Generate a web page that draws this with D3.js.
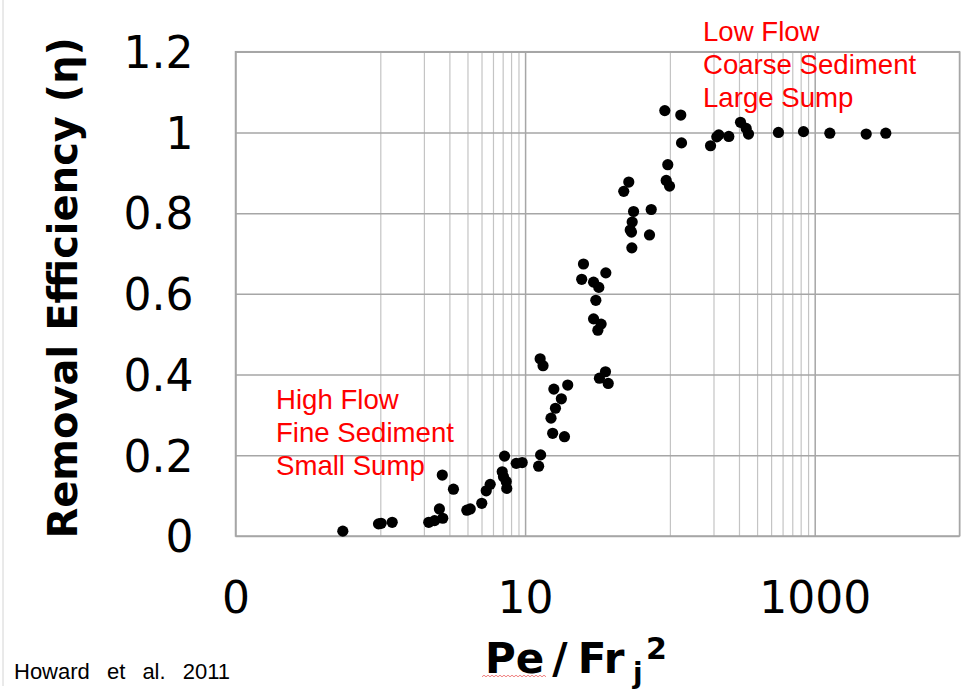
<!DOCTYPE html>
<html>
<head>
<meta charset="utf-8">
<script src="https://cdn.jsdelivr.net/npm/d3@7/dist/d3.min.js"></script>
<style>
  html, body { margin: 0; padding: 0; background: #fff; }
  svg { display: block; }
</style>
</head>
<body>
<svg id="chart" width="963" height="691"></svg>
<script>
// ---- data ----
const peFr = [
  0.551, 0.972, 1.014, 1.208, 2.16, 2.37, 2.56, 2.70, 2.68, 3.20,
  3.96, 4.18, 5.02, 5.39, 5.74, 6.95, 7.09, 7.41, 7.47, 7.21,
  8.68, 9.55, 12.4, 12.8, 12.7, 13.3, 15.8, 17.8, 19.7, 15.5,
  15.1, 16.2, 18.7, 25.3, 24.6, 29.7, 32.3, 36.1, 30.8, 29.7,
  33.5, 31.8, 35.9, 32.6, 37.5, 52.0, 48.0, 56.1, 54.9, 53.2,
  54.3, 54.6, 74.3, 72.3, 92.2, 118.9, 120.3, 96.7, 94.3, 99.4,
  190.8, 210.8, 217.6, 255.2, 307.4, 336.5, 349, 562, 837, 1272,
  2268, 3097
];
const efficiency = [
  0.012, 0.030, 0.0315, 0.034, 0.034, 0.038, 0.067, 0.044, 0.151, 0.116,
  0.064, 0.067, 0.081, 0.112, 0.128, 0.159, 0.147, 0.135, 0.118, 0.198,
  0.180, 0.182, 0.173, 0.201, 0.439, 0.422, 0.364, 0.340, 0.374, 0.2545,
  0.292, 0.3165, 0.246, 0.674, 0.636, 0.629, 0.616, 0.652, 0.584, 0.538,
  0.525, 0.510, 0.407, 0.391, 0.378, 0.877, 0.854, 0.804, 0.778, 0.758,
  0.753, 0.714, 0.809, 0.746, 1.054, 1.043, 0.974, 0.920, 0.881, 0.867,
  0.967, 0.989, 0.994, 0.990, 1.025, 1.010, 0.996, 1.000, 1.002, 0.998,
  0.996, 0.998
];
const xDomain = [0.1, 10000];
const xMajorTicks = [0.1, 10, 1000];
const xTickLabels = ["0", "10", "1000"];
const xMinorTicks = [1, 2, 3, 4, 5, 6, 7, 8, 9, 100, 200, 300, 400, 500, 600, 700, 800, 900, 10000];
const yTicks = [0, 0.2, 0.4, 0.6, 0.8, 1.0, 1.2];
const yTickLabels = ["0", "0.2", "0.4", "0.6", "0.8", "1", "1.2"];
const yTitle = "Removal Efficiency (\u03B7)";
const annoHigh = ["High Flow", "Fine Sediment", "Small Sump"];
const annoLow = ["Low Flow", "Coarse Sediment", "Large Sump"];
const citation = "Howard et al. 2011";

// ---- layout ----
const svg = d3.select("#chart");
const L = 235.5, R = 959.5, T = 51.7, B = 536;

const x = d3.scaleLog().domain(xDomain).range([L, R]);
const y = d3.scaleLinear().domain([0, 1.2]).range([B, T]);

// page edge line on the left
svg.append("line").attr("x1", 3).attr("x2", 3).attr("y1", 0).attr("y2", 686)
  .attr("stroke", "#d4d4d4").attr("stroke-width", 1);

// minor vertical gridlines
svg.append("g").attr("transform", `translate(0,${B})`)
  .call(d3.axisBottom(x).tickValues(xMinorTicks).tickSize(-(B - T)).tickFormat(""))
  .call(g => g.select(".domain").remove())
  .call(g => g.selectAll("line").attr("stroke", "#c4c4c4").attr("stroke-width", 1.2));

// major vertical gridlines
svg.append("g").attr("transform", `translate(0,${B})`)
  .call(d3.axisBottom(x).tickValues(xMajorTicks).tickSize(-(B - T)).tickFormat(""))
  .call(g => g.select(".domain").remove())
  .call(g => g.selectAll("line").attr("stroke", "#a6a6a6").attr("stroke-width", 1.5));

// horizontal gridlines
svg.append("g").attr("transform", `translate(${L},0)`)
  .call(d3.axisLeft(y).tickValues(yTicks).tickSize(-(R - L)).tickFormat(""))
  .call(g => g.select(".domain").remove())
  .call(g => g.selectAll("line").attr("stroke", "#a6a6a6").attr("stroke-width", 1.5));

// frame
svg.append("rect").attr("x", L).attr("y", T).attr("width", R - L).attr("height", B - T)
  .attr("fill", "none").attr("stroke", "#a6a6a6").attr("stroke-width", 1.5);

// x tick labels
svg.append("g").attr("transform", `translate(0,${B})`)
  .call(d3.axisBottom(x).tickValues(xMajorTicks).tickSize(0).tickPadding(0)
    .tickFormat((d, i) => xTickLabels[i]))
  .call(g => g.select(".domain").remove())
  .call(g => g.selectAll("text")
    .attr("font-family", "'DejaVu Sans', Verdana, sans-serif")
    .attr("font-size", 44).attr("fill", "#000")
    .attr("dy", null).attr("y", 77));

// y tick labels
svg.append("g").attr("transform", `translate(${L},0)`)
  .call(d3.axisLeft(y).tickValues(yTicks).tickSize(0).tickPadding(0)
    .tickFormat((d, i) => yTickLabels[i]))
  .call(g => g.select(".domain").remove())
  .call(g => g.selectAll("text")
    .attr("font-family", "'DejaVu Sans', Verdana, sans-serif")
    .attr("font-size", 44).attr("fill", "#000")
    .attr("x", -42).attr("dy", "0.36em"));

// y title
svg.append("text")
  .attr("transform", `translate(77,${(T + B) / 2 - 6}) rotate(-90)`)
  .attr("text-anchor", "middle")
  .attr("font-family", "'DejaVu Sans', Verdana, sans-serif")
  .attr("font-weight", "bold").attr("font-size", 40).attr("fill", "#000")
  .text(yTitle);

// x title: Pe/Fr_j^2
const xt = svg.append("text")
  .attr("font-family", "'DejaVu Sans', Verdana, sans-serif")
  .attr("font-weight", "bold").attr("fill", "#000");
xt.append("tspan").attr("x", 485).attr("y", 673).attr("font-size", 42).text("Pe");
xt.append("tspan").attr("dx", 8).attr("font-size", 42).text("/");
xt.append("tspan").attr("dx", 10).attr("font-size", 42).text("Fr");
xt.append("tspan").attr("x", 633).attr("y", 683).attr("font-size", 28).text("j");
xt.append("tspan").attr("x", 646).attr("y", 659).attr("font-size", 30).text("2");

// spell-check squiggle under "Pe"
const wave = d3.range(482, 548, 2);
svg.append("path")
  .attr("d", d3.line()(wave.map((px, i) => [px, 676 + (i % 2 ? -0.8 : 0.8)])))
  .attr("fill", "none").attr("stroke", "#f08080").attr("stroke-width", 1);

// annotations
const annoFont = "'Liberation Sans', Arial, sans-serif";
svg.append("g").selectAll("text").data(annoHigh).join("text")
  .attr("x", 276).attr("y", (d, i) => 408.5 + i * 33.3)
  .attr("font-family", annoFont).attr("font-size", 27.6).attr("fill", "#ff0000")
  .text(d => d);
svg.append("g").selectAll("text").data(annoLow).join("text")
  .attr("x", 703).attr("y", (d, i) => 40.8 + i * 33.3)
  .attr("font-family", annoFont).attr("font-size", 27.6).attr("fill", "#ff0000")
  .text(d => d);

// points
svg.append("g").selectAll("circle").data(peFr).join("circle")
  .attr("cx", d => x(d))
  .attr("cy", (d, i) => y(efficiency[i]))
  .attr("r", 5.6)
  .attr("fill", "#000");

// citation
svg.append("text")
  .attr("x", 14).attr("y", 679)
  .attr("font-family", annoFont).attr("font-size", 22)
  .attr("word-spacing", 11).attr("fill", "#000")
  .text(citation);
</script>
</body>
</html>
